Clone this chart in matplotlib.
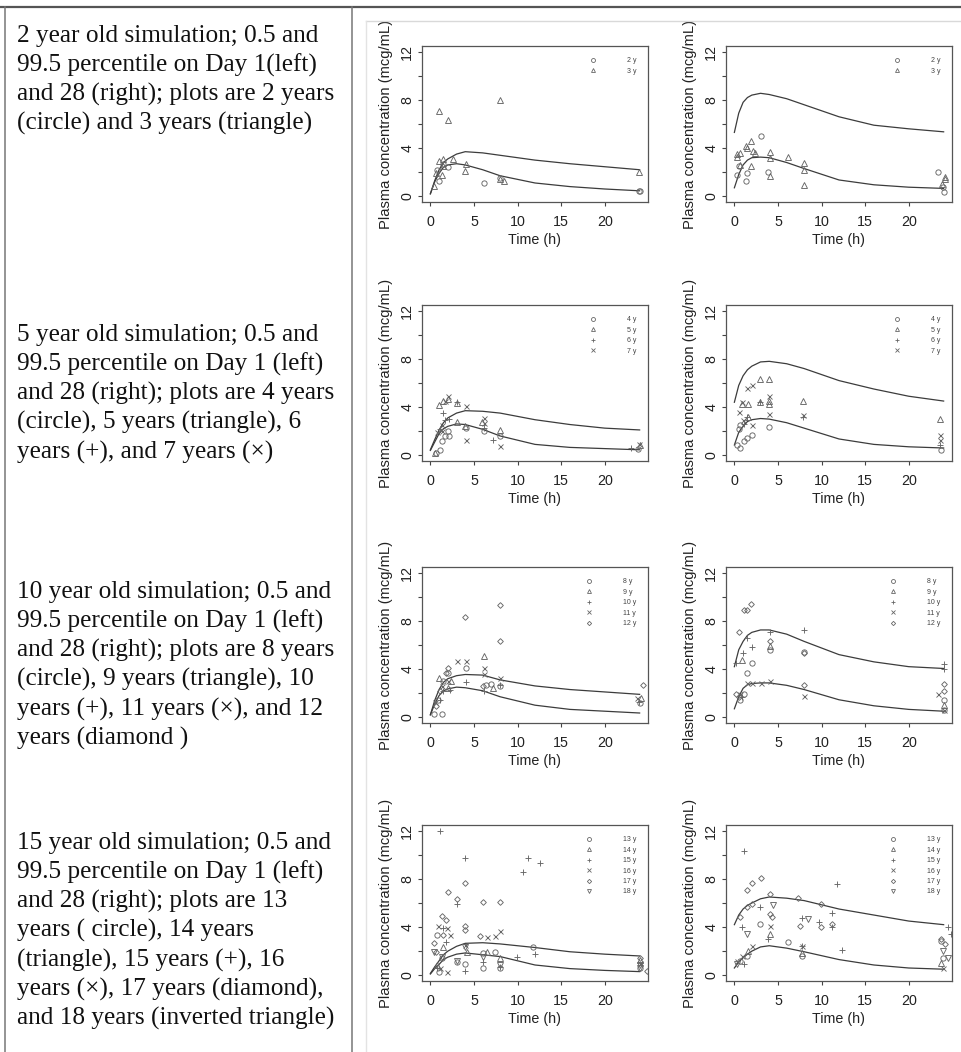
import matplotlib
matplotlib.use("Agg")
import matplotlib.pyplot as plt
from matplotlib.lines import Line2D
from matplotlib.transforms import Bbox, TransformedBbox

## data

# time grid of the 0.5 / 99.5 percentile curves
t_curve = [0, 0.5, 1, 1.5, 2, 3, 4, 6, 8, 12, 16, 20, 24]

hi_2y_d1 = [0.2, 1.3, 2.2, 2.8, 3.1, 3.5, 3.7, 3.6, 3.4, 3.0, 2.7, 2.45, 2.2]
lo_2y_d1 = [0.2, 1.2, 1.9, 2.4, 2.6, 2.7, 2.6, 2.2, 1.7, 1.1, 0.8, 0.6, 0.45]
hi_2y_d28 = [5.3, 6.9, 7.8, 8.2, 8.4, 8.55, 8.45, 8.1, 7.6, 6.6, 5.9, 5.6, 5.35]
lo_2y_d28 = [0.7, 1.8, 2.6, 3.0, 3.2, 3.25, 3.2, 2.8, 2.3, 1.35, 0.95, 0.75, 0.65]

hi_5y_d1 = [0.45, 1.3, 2.1, 2.7, 3.1, 3.5, 3.7, 3.65, 3.5, 2.95, 2.55, 2.25, 2.1]
lo_5y_d1 = [0.4, 1.1, 1.8, 2.2, 2.4, 2.6, 2.55, 2.15, 1.6, 0.9, 0.65, 0.55, 0.45]
hi_5y_d28 = [4.4, 5.8, 6.6, 7.1, 7.4, 7.75, 7.8, 7.6, 7.2, 6.2, 5.5, 4.9, 4.5]
lo_5y_d28 = [0.85, 1.9, 2.4, 2.8, 2.95, 3.05, 3.0, 2.7, 2.25, 1.35, 0.9, 0.7, 0.6]

hi_10y_d1 = [0.2, 1.4, 2.3, 2.9, 3.2, 3.45, 3.55, 3.5, 3.1, 2.6, 2.3, 2.1, 1.9]
lo_10y_d1 = [0.2, 1.1, 1.8, 2.2, 2.35, 2.5, 2.45, 2.2, 1.7, 1.0, 0.65, 0.5, 0.35]
hi_10y_d28 = [4.2, 5.6, 6.3, 6.8, 7.05, 7.25, 7.25, 6.9, 6.3, 5.2, 4.6, 4.2, 4.05]
lo_10y_d28 = [0.7, 1.7, 2.4, 2.7, 2.8, 2.85, 2.85, 2.65, 2.3, 1.45, 0.95, 0.65, 0.5]

hi_15y_d1 = [0.15, 0.7, 1.2, 1.7, 2.0, 2.4, 2.65, 2.7, 2.6, 2.3, 1.95, 1.75, 1.6]
lo_15y_d1 = [0.1, 0.55, 0.9, 1.3, 1.5, 1.75, 1.85, 1.7, 1.55, 0.85, 0.55, 0.4, 0.3]
hi_15y_d28 = [4.2, 5.0, 5.5, 5.8, 6.0, 6.35, 6.5, 6.4, 6.2, 5.5, 5.0, 4.5, 4.2]
lo_15y_d28 = [0.6, 1.1, 1.45, 1.75, 2.0, 2.35, 2.45, 2.25, 1.95, 1.3, 0.85, 0.6, 0.5]

# observed concentrations: age label -> (times, conc)
obs_2y_d1 = {
    "2 y": ([1.0, 2.0, 6.2, 23.9, 1.5, 0.76, 8.0, 24.0],
            [1.25, 2.4, 1.06, 0.47, 2.65, 2.2, 1.5, 0.42]),
    "3 y": ([1.0, 2.0, 8.0, 0.95, 1.5, 2.6, 4.1, 4.0, 8.0, 8.4, 23.9, 0.46, 1.3, 0.6, 1.4],
            [7.1, 6.3, 8.0, 2.9, 3.1, 3.1, 2.65, 2.1, 1.4, 1.25, 2.0, 0.84, 1.8, 1.95, 2.5]),
}
obs_2y_d28 = {
    "2 y": ([3.1, 3.8, 0.3, 1.3, 23.4, 0.5, 1.5, 24.0, 23.9],
            [5.0, 2.0, 1.8, 1.3, 2.0, 2.5, 1.9, 0.35, 0.8]),
    "3 y": ([0.7, 1.3, 1.85, 2.4, 4.1, 4.1, 4.1, 6.2, 8.0, 8.0, 8.0, 0.7, 1.5, 24.2, 24.2,
             23.8, 0.3, 1.85, 2.1, 0.25],
            [3.6, 4.15, 4.6, 3.6, 3.7, 3.2, 1.65, 3.3, 2.75, 0.95, 2.2, 2.6, 4.0, 1.6, 1.4,
             1.0, 3.3, 2.5, 3.75, 3.5]),
}
obs_5y_d1 = {
    "4 y": ([2.0, 2.1, 1.3, 1.1, 4.1, 6.1, 8.0, 23.8, 1.7, 0.6],
            [2.0, 1.57, 1.16, 0.47, 2.3, 2.0, 1.6, 0.52, 1.6, 0.2]),
    "5 y": ([1.0, 1.5, 2.0, 3.0, 3.0, 4.0, 8.0, 5.9, 0.5, 24.0],
            [4.2, 4.5, 4.7, 4.35, 2.8, 2.4, 2.1, 2.8, 0.2, 0.83]),
    "6 y": ([1.5, 1.7, 3.1, 6.1, 7.2, 23.0, 1.1, 2.1],
            [3.5, 2.9, 4.4, 2.3, 1.3, 0.6, 2.2, 3.0]),
    "7 y": ([2.0, 1.7, 4.1, 4.1, 6.1, 6.1, 8.0, 1.3, 23.9, 1.3, 0.8],
            [4.9, 4.5, 4.1, 1.3, 3.1, 2.7, 0.8, 2.0, 0.94, 2.5, 1.9]),
}
obs_5y_d28 = {
    "4 y": ([0.3, 0.7, 1.5, 2.0, 0.7, 4.0, 23.75, 1.05, 0.5],
            [0.87, 0.6, 1.4, 1.68, 2.5, 2.36, 0.46, 1.14, 2.2]),
    "5 y": ([2.9, 4.0, 0.86, 1.6, 2.9, 4.0, 7.9, 23.6, 1.6, 4.0],
            [6.3, 6.3, 4.27, 4.27, 4.4, 4.27, 4.5, 3.04, 3.2, 4.5]),
    "6 y": ([1.4, 1.05, 7.9, 2.9, 23.6],
            [3.2, 2.6, 3.2, 4.4, 0.87]),
    "7 y": ([0.5, 1.5, 2.0, 0.86, 4.0, 4.0, 7.9, 23.6, 23.6, 2.0, 1.0],
            [3.6, 5.6, 5.8, 4.46, 4.9, 3.45, 3.3, 1.7, 1.3, 2.5, 2.9]),
}
obs_10y_d1 = {
    "8 y": ([4.1, 2.0, 1.3, 0.45, 6.4, 7.0, 1.5, 8.0, 24.0, 0.9],
            [4.1, 3.7, 0.25, 0.25, 2.7, 2.8, 3.0, 2.57, 1.2, 1.45]),
    "9 y": ([1.0, 6.2, 2.4, 2.0, 24.2, 7.2],
            [3.3, 5.1, 3.0, 2.4, 1.6, 2.43]),
    "10 y": ([4.1, 6.1, 1.05, 1.5, 8.0, 23.9, 2.3],
             [2.9, 2.15, 1.45, 2.15, 2.7, 1.3, 2.3]),
    "11 y": ([3.1, 4.1, 6.1, 6.2, 8.0, 23.7, 2.0, 0.57, 1.3],
             [4.7, 4.7, 4.1, 3.55, 3.3, 1.6, 3.05, 1.3, 2.6]),
    "12 y": ([4.0, 8.0, 8.0, 2.0, 24.4, 1.1, 1.8, 6.0, 0.6],
             [8.3, 9.3, 6.35, 4.1, 2.66, 2.15, 3.7, 2.57, 0.9]),
}
obs_10y_d28 = {
    "8 y": ([1.5, 2.0, 4.1, 8.0, 24.0, 24.0, 0.7, 1.07],
            [3.7, 4.5, 5.6, 5.45, 1.4, 0.6, 1.4, 1.95]),
    "9 y": ([0.9, 4.1, 24.0],
            [4.75, 5.9, 1.0]),
    "10 y": ([0.2, 1.0, 1.5, 2.0, 8.0, 24.0, 24.0, 4.1, 0.9],
             [4.5, 5.3, 6.55, 5.85, 7.26, 4.45, 4.0, 7.1, 1.7]),
    "11 y": ([1.5, 2.0, 3.0, 4.1, 8.0, 23.3, 24.0, 0.7],
             [2.85, 2.85, 2.85, 3.0, 1.8, 1.9, 0.6, 1.95]),
    "12 y": ([0.5, 1.07, 1.5, 1.95, 4.1, 8.0, 8.0, 24.0, 24.0, 0.2, 0.5],
             [7.1, 8.9, 8.9, 9.4, 6.3, 5.35, 2.65, 2.8, 2.2, 1.95, 1.7]),
}
obs_15y_d1 = {
    "13 y": ([0.76, 4.0, 6.0, 8.0, 1.3, 3.0, 7.4, 11.8, 24.0, 0.95, 6.0],
             [3.36, 0.9, 0.56, 0.56, 1.4, 1.12, 1.96, 2.38, 0.56, 0.28, 1.82]),
    "14 y": ([1.5, 4.2, 8.0, 24.0, 0.76, 6.5],
             [2.38, 1.96, 1.4, 1.26, 0.84, 1.96]),
    "15 y": ([1.07, 4.0, 10.6, 11.2, 12.6, 3.0, 1.5, 9.9, 12.0, 4.0, 8.0, 6.0, 1.8, 0.76],
             [12.0, 9.7, 8.6, 9.7, 9.3, 5.95, 3.9, 1.54, 1.74, 0.34, 0.7, 1.12, 2.8, 0.56]),
    "16 y": ([0.84, 1.9, 6.5, 7.4, 8.0, 2.3, 4.0, 1.07, 24.0, 1.9],
             [4.06, 3.9, 3.2, 3.3, 3.64, 3.36, 2.52, 0.56, 0.98, 0.28]),
    "17 y": ([4.0, 2.0, 3.0, 6.0, 8.0, 1.3, 1.8, 4.0, 4.0, 5.7, 1.5, 0.46, 24.0, 0.6, 24.8],
             [7.7, 6.9, 6.3, 6.1, 6.1, 4.9, 4.6, 4.06, 3.78, 3.28, 3.36, 2.66, 1.4, 1.96, 0.34]),
    "18 y": ([0.46, 1.3, 8.0, 4.0, 3.0, 24.0, 24.0, 6.0],
             [1.96, 1.54, 0.84, 2.38, 1.18, 0.84, 0.56, 1.54]),
}
obs_15y_d28 = {
    "13 y": ([2.9, 6.15, 0.68, 1.43, 23.7, 23.9, 7.8],
             [4.25, 2.8, 1.17, 1.6, 2.85, 1.45, 1.6]),
    "14 y": ([1.6, 4.1, 7.8, 23.7],
             [2.0, 3.4, 1.87, 1.0]),
    "15 y": ([1.06, 11.8, 2.9, 7.8, 11.2, 12.4, 11.2, 9.7, 0.87, 3.9, 7.8, 1.06, 24.5, 24.8],
             [10.3, 7.6, 5.7, 4.75, 5.14, 2.12, 3.97, 4.4, 3.97, 3.0, 2.43, 0.9, 3.97, 3.46]),
    "16 y": ([0.87, 2.0, 4.1, 7.8, 23.9, 0.3],
             [1.6, 2.43, 4.1, 2.43, 0.6, 1.17]),
    "17 y": ([1.5, 2.0, 3.06, 4.1, 7.3, 9.9, 0.68, 1.5, 2.0, 4.1, 4.26, 7.5, 9.9, 11.2, 23.7, 24.1],
             [7.1, 7.7, 8.07, 6.76, 6.42, 5.9, 4.8, 5.64, 5.9, 5.08, 4.8, 4.1, 3.97, 4.25, 3.0, 2.57]),
    "18 y": ([4.45, 8.4, 23.9, 24.45, 1.43, 0.3],
             [5.8, 4.66, 2.0, 1.45, 3.4, 0.9]),
}

row_text = [
    ["2 year old simulation; 0.5 and",
     "99.5 percentile on Day 1(left)",
     "and 28 (right); plots are 2 years",
     "(circle) and 3 years (triangle)"],
    ["5 year old simulation; 0.5 and",
     "99.5 percentile on Day 1 (left)",
     "and 28 (right); plots are 4 years",
     "(circle), 5 years (triangle), 6",
     "years (+), and 7 years (\u00d7)"],
    ["10 year old simulation; 0.5 and",
     "99.5 percentile on Day 1 (left)",
     "and 28 (right); plots are 8 years",
     "(circle), 9 years (triangle), 10",
     "years (+), 11 years (\u00d7), and 12",
     "years (diamond )"],
    ["15 year old simulation; 0.5 and",
     "99.5 percentile on Day 1 (left)",
     "and 28 (right); plots are 13",
     "years ( circle), 14 years",
     "(triangle), 15 years (+), 16",
     "years (\u00d7), 17 years (diamond),",
     "and 18 years (inverted triangle)"],
]

panels = [
    (hi_2y_d1, lo_2y_d1, obs_2y_d1), (hi_2y_d28, lo_2y_d28, obs_2y_d28),
    (hi_5y_d1, lo_5y_d1, obs_5y_d1), (hi_5y_d28, lo_5y_d28, obs_5y_d28),
    (hi_10y_d1, lo_10y_d1, obs_10y_d1), (hi_10y_d28, lo_10y_d28, obs_10y_d28),
    (hi_15y_d1, lo_15y_d1, obs_15y_d1), (hi_15y_d28, lo_15y_d28, obs_15y_d28),
]

# R pch 1..6
markers = ['o', '^', '+', 'x', 'D', 'v']
msizes = [3.8, 3.8, 4.2, 3.6, 2.9, 3.8]

## layout (pixels)
W, H = 962, 1052
fig = plt.figure(figsize=(W / 100, H / 100), dpi=100)
fig.patch.set_facecolor('white')


def px_rect(l, t, w, h):
    return [l / W, 1 - (t + h) / H, w / W, h / H]


def fig_line(x, y, **kw):
    fig.add_artist(Line2D([v / W for v in x], [1 - v / H for v in y], **kw))


# table lines
fig_line([0, W], [7, 7], color='#555555', lw=1.6)
fig_line([5, 5], [7, H], color='#777777', lw=1.1)
fig_line([352, 352], [7, H], color='#777777', lw=1.1)
# image frame of the plots
fig_line([366, W], [21, 21], color='#d9d9d9', lw=1.0)
fig_line([366, 366], [21, H], color='#e3e3e3', lw=1.0)

# left column text
first_line = [36, 335, 592, 843]
for lines, y0 in zip(row_text, first_line):
    for k, s in enumerate(lines):
        fig.text(17 / W, 1 - (y0 + k * 29.3) / H, s, ha='left', va='center',
                 fontsize=18.2, color='#111111',
                 family=['Liberation Serif', 'DejaVu Serif'])

col_left = [422, 726]
row_top = [46, 305, 567, 825]
ax_w, ax_h = 226, 156

sans = ['Liberation Sans', 'DejaVu Sans']
line_col = '#3c3c3c'
pt_col = '#666666'

for i, (hi, lo, obs) in enumerate(panels):
    r, c = divmod(i, 2)
    ax = fig.add_axes(px_rect(col_left[c], row_top[r], ax_w, ax_h))
    ax.plot(t_curve, hi, color=line_col, lw=0.9)
    ax.plot(t_curve, lo, color=line_col, lw=0.9)
    handles = []
    for j, (lab, (tt, cc)) in enumerate(obs.items()):
        ax.plot(tt, cc, linestyle='none', marker=markers[j], ms=msizes[j],
                mfc='none', mec=pt_col, mew=0.65)
        handles.append(Line2D([], [], linestyle='none', marker=markers[j],
                              ms=msizes[j] * 0.75, mfc='none', mec=pt_col,
                              mew=0.6, label=lab))
    leg = ax.legend(handles=handles, loc='upper right', bbox_to_anchor=(0.97, 0.96),
                    frameon=False, fontsize=5, handlelength=0.6,
                    handletextpad=4.6, labelspacing=0.5, borderpad=0.2)
    for tx in leg.get_texts():
        tx.set_color('#444444')
        tx.set_family(sans)

    ax.set_xlim(-0.96, 24.96)
    ax.set_ylim(-0.48, 12.48)
    ax.set_xticks([0, 5, 10, 15, 20])
    ax.set_yticks([0, 4, 8, 12])
    ax.set_yticks([2, 6, 10], minor=True)
    ax.tick_params(axis='both', which='both', direction='out', length=3,
                   width=0.8, color='#444444')
    ax.tick_params(axis='x', pad=6.5, labelsize=10.3, labelcolor='#222222')
    ax.tick_params(axis='y', pad=2.5, labelsize=10.3, labelcolor='#222222')
    for lab in ax.get_yticklabels():
        lab.set_rotation(90)
        lab.set_va('center')
        lab.set_family(sans)
    for lab in ax.get_xticklabels():
        lab.set_family(sans)
    for sp in ax.spines.values():
        sp.set_color('#555555')
        sp.set_linewidth(0.9)
    ax.set_xlabel('Time (h)', fontsize=10.3, family=sans, color='#222222', labelpad=3)
    ax.set_ylabel('Plasma concentration (mcg/mL)', fontsize=10.6, family=sans,
                  color='#222222', labelpad=5)
    if r == 0:
        # top row label is cut by the picture frame
        clip = TransformedBbox(Bbox([[0, 0], [1, 1 - 21 / H]]), fig.transFigure)
        ax.yaxis.label.set_clip_box(clip)
        ax.yaxis.label.set_clip_on(True)

fig.savefig('out.png', dpi=100, facecolor='white')
